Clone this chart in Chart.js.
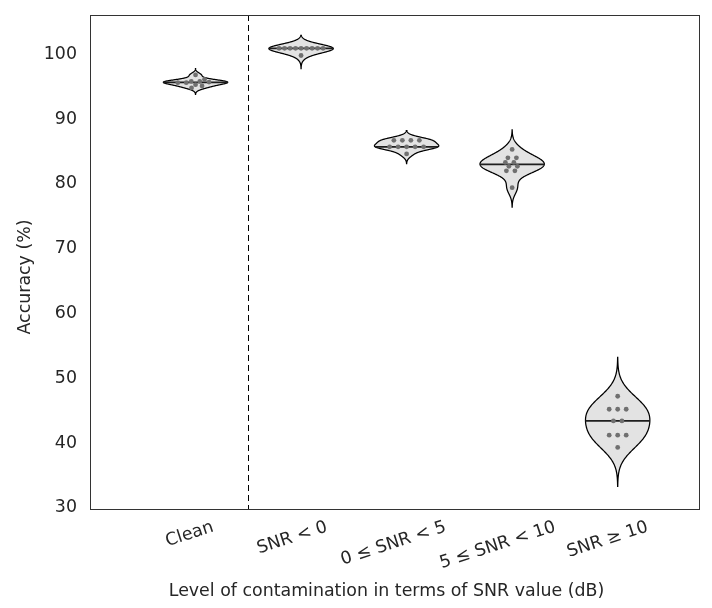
<!DOCTYPE html>
<html>
<head>
<meta charset="utf-8">
<script src="https://cdn.jsdelivr.net/npm/chart.js@4.4.1/dist/chart.umd.min.js"></script>
<style>
    html, body { margin: 0; padding: 0; background: #fff; }
</style>
</head>
<body>
<canvas id="chart" width="712" height="608"></canvas>
<script>
// data (accuracy %, one value per fold)
const categories = ["Clean", "SNR < 0", "0 ≤ SNR < 5", "5 ≤ SNR < 10", "SNR ≥ 10"];
const accClean = [94.4, 94.7, 94.9, 94.9, 95.9, 94.2, 93.9, 94.7, 95.2, 94.8];
const accSnrBelow0 = [100, 100, 100, 100, 100, 100, 100, 100, 100, 98.9];
const accSnr0to5 = [85.8, 85.8, 85.8, 85.8, 84.8, 84.8, 84.8, 84.8, 84.8, 83.7];
const accSnr5to10 = [84.4, 83.1, 83.1, 82.4, 82.4, 81.8, 81.8, 81.1, 81.1, 78.5];
const accSnr10up = [46.3, 44.3, 44.3, 44.3, 42.5, 42.5, 40.3, 40.3, 40.3, 38.4];
const yTicks = [30, 40, 50, 60, 70, 80, 90, 100];

const groups = [accClean, accSnrBelow0, accSnr0to5, accSnr5to10, accSnr10up];
// kde bandwidth for each violin
const bandwidths = [0.33, 0.67, 0.5, 1.0, 2.0];
const kdeCut = 3;
const violinHalfWidth = 0.305;
const labelRotation = 18;
const fontSize = 17.4;
const fontFamily = '"DejaVu Sans", sans-serif';
const textColor = "#262626";

const median = (arr) => {
    const s = [...arr].sort((a, b) => a - b);
    const m = Math.floor(s.length / 2);
    return s.length % 2 ? s[m] : (s[m - 1] + s[m]) / 2;
};

const kde = (values, bw, v) => {
    let sum = 0;
    values.forEach((x) => {
        const z = (v - x) / bw;
        sum += Math.exp(-0.5 * z * z);
    });
    return sum;
};

// violin outline: list of [value, halfWidth]
const violinShape = (values, bw) => {
    const lo = Math.min(...values) - kdeCut * bw;
    const hi = Math.max(...values) + kdeCut * bw;
    const pts = [];
    const n = 240;
    for (let k = 0; k <= n; k++) {
        const v = lo + (hi - lo) * k / n;
        pts.push([v, kde(values, bw, v)]);
    }
    const maxD = Math.max(...pts.map((p) => p[1]));
    return { pts: pts.map((p) => [p[0], p[1] / maxD * violinHalfWidth]), maxD: maxD };
};

// rows of equal values, spread sideways, shifted when they hit a placed dot
const swarm = (values, yPx, step, minGap, maxHalf) => {
    const rows = {};
    values.forEach((v) => { (rows[v] = rows[v] || []).push(v); });
    const keys = Object.keys(rows).map(Number)
        .sort((a, b) => rows[b].length - rows[a].length || b - a);
    const placed = [];
    keys.forEach((v) => {
        const n = rows[v].length;
        const sp = n > 1 ? Math.min(step, 2 * maxHalf / (n - 1)) : step;
        const y = yPx(v);
        let xs = [];
        for (let k = 0; k < 400; k++) {
            const s = k === 0 ? 0 : (k % 2 ? -1 : 1) * Math.ceil(k / 2) * 0.5;
            xs = [];
            for (let j = 0; j < n; j++) xs.push((j - (n - 1) / 2) * sp + s);
            const ok = xs.every((x) => placed.every((p) => Math.hypot(p.x - x, p.y - y) >= minGap));
            if (ok) break;
        }
        xs.forEach((x) => placed.push({ x: x, y: y, v: v }));
    });
    return placed;
};

const violinPlugin = {
    id: "violins",
    beforeDatasetsDraw(chart) {
        const { ctx, chartArea: area, scales: { x, y } } = chart;
        ctx.save();
        // separator between clean and noisy
        ctx.strokeStyle = "#000";
        ctx.lineWidth = 1;
        ctx.setLineDash([6, 4]);
        const xd = Math.round(x.getPixelForValue(0.5)) + 0.5;
        ctx.beginPath();
        ctx.moveTo(xd, area.top);
        ctx.lineTo(xd, area.bottom);
        ctx.stroke();
        ctx.setLineDash([]);

        groups.forEach((vals, i) => {
            const shape = violinShape(vals, bandwidths[i]);
            ctx.beginPath();
            shape.pts.forEach((p, k) => {
                const px = x.getPixelForValue(i - p[1]);
                const py = y.getPixelForValue(p[0]);
                if (k === 0) ctx.moveTo(px, py); else ctx.lineTo(px, py);
            });
            for (let k = shape.pts.length - 1; k >= 0; k--) {
                const p = shape.pts[k];
                ctx.lineTo(x.getPixelForValue(i + p[1]), y.getPixelForValue(p[0]));
            }
            ctx.closePath();
            ctx.fillStyle = "#e3e3e3";
            ctx.fill();
            ctx.strokeStyle = "#000";
            ctx.lineWidth = 1.25;
            ctx.stroke();

            const m = median(vals);
            const hw = kde(vals, bandwidths[i], m) / shape.maxD * violinHalfWidth;
            ctx.beginPath();
            ctx.moveTo(x.getPixelForValue(i - hw), y.getPixelForValue(m));
            ctx.lineTo(x.getPixelForValue(i + hw), y.getPixelForValue(m));
            ctx.strokeStyle = "#1e1e1e";
            ctx.lineWidth = 1.6;
            ctx.stroke();
        });
        ctx.restore();
    },
    afterDraw(chart) {
        const { ctx, chartArea: area, scales: { x } } = chart;
        ctx.save();
        // frame
        ctx.strokeStyle = "#333";
        ctx.lineWidth = 1;
        ctx.strokeRect(Math.round(area.left) + 0.5, Math.round(area.top) + 0.5,
            Math.round(area.right - area.left) - 1, Math.round(area.bottom - area.top));

        ctx.fillStyle = textColor;
        ctx.font = fontSize + "px " + fontFamily;
        ctx.textAlign = "center";
        ctx.textBaseline = "middle";
        const th = labelRotation * Math.PI / 180;
        categories.forEach((lab, i) => {
            const w = ctx.measureText(lab).width;
            const h = w * Math.sin(th) + fontSize * 1.17 * Math.cos(th);
            const cx = x.getPixelForValue(i) - 0.12 * w;
            const cy = area.bottom + 8 + h / 2;
            ctx.save();
            ctx.translate(cx, cy);
            ctx.rotate(-th);
            ctx.fillText(lab, 0, 0);
            ctx.restore();
        });

        // axis titles
        ctx.fillText("Level of contamination in terms of SNR value (dB)", 386.5, 591);
        ctx.save();
        ctx.translate(25, 277);
        ctx.rotate(-Math.PI / 2);
        ctx.fillText("Accuracy (%)", 0, 0);
        ctx.restore();
        ctx.restore();
    },
};

const chart = new Chart(document.getElementById("chart"), {
    type: "scatter",
    data: {
        datasets: [{
            data: [],
            pointRadius: 2.4,
            pointBackgroundColor: "#707070",
            pointBorderWidth: 0,
        }],
    },
    options: {
        responsive: false,
        animation: false,
        layout: { padding: { top: 15, right: 12, left: 0, bottom: 0 } },
        plugins: { legend: { display: false }, tooltip: { enabled: false } },
        scales: {
            x: {
                type: "linear",
                min: -1,
                max: 4.78,
                grid: { display: false, drawTicks: false },
                border: { display: false },
                ticks: { display: false },
                afterFit: (s) => { s.height = 99; s.paddingLeft = 0; s.paddingRight = 0; },
            },
            y: {
                min: 28.9,
                max: 105.15,
                afterBuildTicks: (s) => { s.ticks = yTicks.map((v) => ({ value: v })); },
                grid: { display: false, drawTicks: false },
                border: { display: false },
                ticks: {
                    padding: 13,
                    labelOffset: 6,
                    color: textColor,
                    font: { family: fontFamily, size: fontSize },
                },
                afterFit: (s) => { s.width = 90; s.paddingTop = 0; s.paddingBottom = 0; },
            },
        },
    },
    plugins: [violinPlugin],
});

// place the dots once the scales are known
const xScale = chart.scales.x;
const yScale = chart.scales.y;
const pxPerUnit = xScale.width / (xScale.max - xScale.min);
const points = [];
groups.forEach((vals, i) => {
    swarm(vals, (v) => yScale.getPixelForValue(v), 8.5, 5, 22).forEach((p) => {
        points.push({ x: i + p.x / pxPerUnit, y: p.v });
    });
});
chart.data.datasets[0].data = points;
chart.update();
</script>
</body>
</html>
